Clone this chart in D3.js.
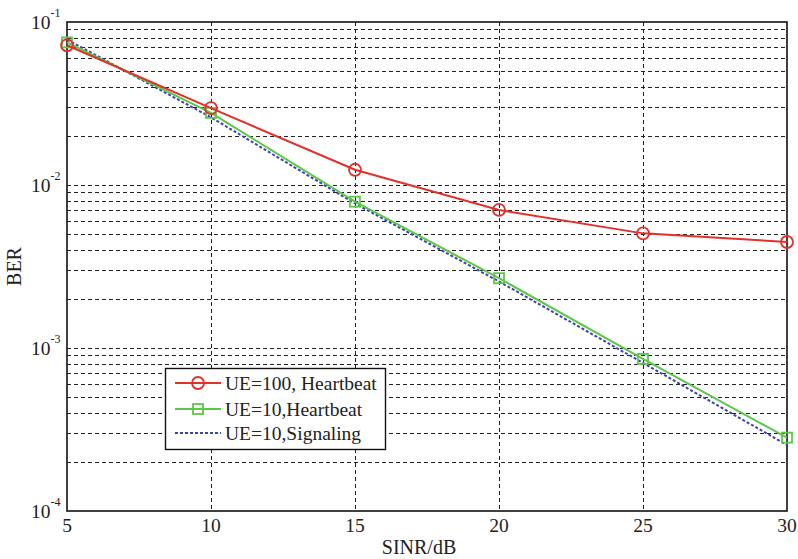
<!DOCTYPE html>
<html>
<head>
<meta charset="utf-8">
<script src="https://d3js.org/d3.v7.min.js"></script>
<style>
  body { margin: 0; background: #fff; }
  text { font-family: "Liberation Serif", "Times New Roman", serif; fill: #222; }
</style>
</head>
<body>
<div id="my_dataviz"></div>
<script>

// data
var sinr = [5, 10, 15, 20, 25, 30]
var berUe100 = [0.0720, 0.0296, 0.0124, 0.00703, 0.00505, 0.00447]
var berUe10Hb = [0.0750, 0.0277, 0.0079, 0.00268, 0.000857, 0.000282]
var berUe10Sig = [0.0780, 0.0260, 0.0077, 0.00256, 0.00081, 0.000254]
var seriesNames = ["UE=100, Heartbeat", "UE=10,Heartbeat", "UE=10,Signaling"]
var xTicks = [5, 10, 15, 20, 25, 30]
var yDecades = [-4, -3, -2, -1]

var width = 798, height = 559
var margin = {left: 67, right: 11, top: 22, bottom: 48}

var svg = d3.select("#my_dataviz")
  .append("svg")
    .attr("width", width)
    .attr("height", height)

var x = d3.scaleLinear().domain([5, 30]).range([margin.left, width - margin.right])
var y = d3.scaleLog().domain([1e-4, 1e-1]).range([height - margin.bottom, margin.top])

// grid lines (minor log lines + vertical at the inner x ticks)
var minor = []
yDecades.slice(0, 3).forEach(function(e) {
  for (var k = 1; k <= 10; k++) minor.push(k * Math.pow(10, e))
})
svg.append("g").selectAll("line")
  .data(minor.filter(function(v) { return v > 1.001e-4 && v < 0.0999 }))
  .enter().append("line")
    .attr("x1", x(5)).attr("x2", x(30))
    .attr("y1", function(d) { return Math.round(y(d)) + 0.5 })
    .attr("y2", function(d) { return Math.round(y(d)) + 0.5 })
    .attr("stroke", "#222").attr("stroke-width", 1)
    .attr("stroke-dasharray", "4,3")

svg.append("g").selectAll("line")
  .data(xTicks.slice(1, -1))
  .enter().append("line")
    .attr("y1", y(1e-1)).attr("y2", y(1e-4))
    .attr("x1", function(d) { return Math.round(x(d)) + 0.5 })
    .attr("x2", function(d) { return Math.round(x(d)) + 0.5 })
    .attr("stroke", "#222").attr("stroke-width", 1)
    .attr("stroke-dasharray", "4,3")

// frame
svg.append("rect")
  .attr("x", x(5)).attr("y", y(1e-1))
  .attr("width", x(30) - x(5)).attr("height", y(1e-4) - y(1e-1))
  .attr("fill", "none").attr("stroke", "#111").attr("stroke-width", 1.6)

// x tick labels
svg.append("g").selectAll("text")
  .data(xTicks)
  .enter().append("text")
    .attr("x", function(d) { return x(d) })
    .attr("y", 532)
    .attr("text-anchor", "middle")
    .style("font-size", "19.5px")
    .text(function(d) { return d })

// y tick labels 10^e
var yl = svg.append("g").selectAll("text")
  .data(yDecades)
  .enter().append("text")
    .attr("x", 31)
    .attr("y", function(d) { return y(Math.pow(10, d)) + 7 })
    .style("font-size", "19.5px")
yl.append("tspan").text("10")
yl.append("tspan")
  .attr("dy", -12)
  .style("font-size", "12px")
  .text(function(d) { return d })

// axis titles
svg.append("text")
  .attr("x", 419).attr("y", 554)
  .attr("text-anchor", "middle")
  .style("font-size", "20px")
  .text("SINR/dB")
svg.append("text")
  .attr("transform", "translate(21," + ((y(1e-1) + y(1e-4)) / 2) + ") rotate(-90)")
  .attr("text-anchor", "middle")
  .style("font-size", "20px")
  .text("BER")

var line = d3.line()
  .x(function(d, i) { return x(sinr[i]) })
  .y(function(d) { return y(d) })

var colors = ["#e0312b", "#5cc64a", "#3a45a8"]

// signaling (dotted blue)
svg.append("path")
  .attr("d", line(berUe10Sig))
  .attr("fill", "none").attr("stroke", colors[2])
  .attr("stroke-width", 2).attr("stroke-dasharray", "3,2")

// heartbeat UE=10 (green squares)
svg.append("path")
  .attr("d", line(berUe10Hb))
  .attr("fill", "none").attr("stroke", colors[1]).attr("stroke-width", 2)
svg.append("g").selectAll("rect")
  .data(berUe10Hb)
  .enter().append("rect")
    .attr("x", function(d, i) { return x(sinr[i]) - 5 })
    .attr("y", function(d) { return y(d) - 5 })
    .attr("width", 10).attr("height", 10)
    .attr("fill", "none").attr("stroke", colors[1]).attr("stroke-width", 1.8)

// heartbeat UE=100 (red circles)
svg.append("path")
  .attr("d", line(berUe100))
  .attr("fill", "none").attr("stroke", colors[0]).attr("stroke-width", 2)
svg.append("g").selectAll("circle")
  .data(berUe100)
  .enter().append("circle")
    .attr("cx", function(d, i) { return x(sinr[i]) })
    .attr("cy", function(d) { return y(d) })
    .attr("r", 6)
    .attr("fill", "none").attr("stroke", colors[0]).attr("stroke-width", 1.8)

// legend
var lg = svg.append("g")
lg.append("rect")
  .attr("x", 165.5).attr("y", 368.5).attr("width", 220).attr("height", 81)
  .attr("fill", "#fff").attr("stroke", "#111").attr("stroke-width", 1.4)
var rows = [383, 409, 433]
seriesNames.forEach(function(name, i) {
  var ly = rows[i]
  lg.append("line")
    .attr("x1", 175).attr("x2", 221).attr("y1", ly).attr("y2", ly)
    .attr("stroke", colors[i]).attr("stroke-width", 2)
    .attr("stroke-dasharray", i == 2 ? "3,2" : null)
  if (i == 0) lg.append("circle").attr("cx", 198).attr("cy", ly).attr("r", 6)
    .attr("fill", "none").attr("stroke", colors[0]).attr("stroke-width", 1.8)
  if (i == 1) lg.append("rect").attr("x", 193).attr("y", ly - 5).attr("width", 10).attr("height", 10)
    .attr("fill", "none").attr("stroke", colors[1]).attr("stroke-width", 1.8)
  lg.append("text")
    .attr("x", 225).attr("y", ly + 7)
    .style("font-size", "19.5px")
    .text(name)
})

</script>
</body>
</html>
